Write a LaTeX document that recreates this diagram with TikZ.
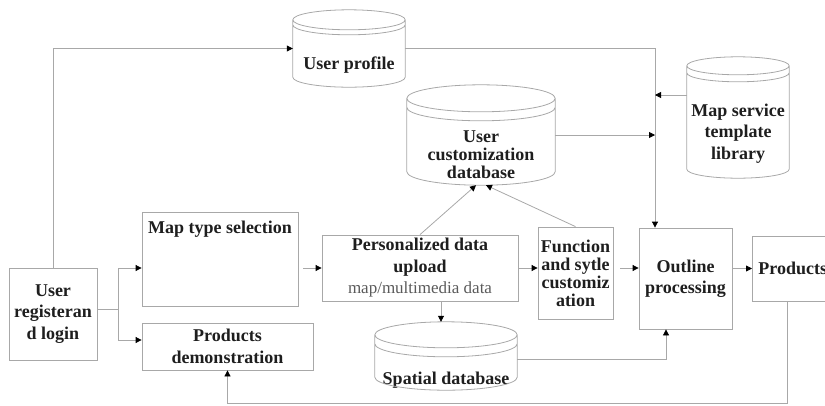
\documentclass[tikz,border=0pt]{standalone}
\usepackage{fontspec}
\setmainfont{Liberation Serif}
\usetikzlibrary{calc,arrows.meta,positioning}
\definecolor{linegray}{HTML}{A8A8A8}
\definecolor{textgray}{HTML}{1E1E1E}
\definecolor{subgray}{HTML}{5A5A5A}
\newcommand{\dbdraw}[3]{%
	\draw[line] let \p1=(#1.north west), \p2=(#1.south east), \n1={(\x2-\x1)/2} in
		(\x1,\y1-#2) -- (\x1,\y2+#2) arc[start angle=180,end angle=360,x radius=\n1,y radius=#2]
		-- (\x2,\y1-#2) arc[start angle=0,end angle=360,x radius=\n1,y radius=#2]
		(\x1,\y1-#2-#3) arc[start angle=180,end angle=360,x radius=\n1,y radius=#2];}

\begin{document}
\begin{tikzpicture}[
	x=1pt, y=-1pt,
	font=\fontsize{18}{21.5}\selectfont\bfseries,
	text=textgray,
	box/.style={draw=linegray, line width=0.8pt, rectangle, align=center, inner sep=2pt},
	db/.style={rectangle, inner sep=0pt},
	tight/.style={font=\fontsize{18}{18}\selectfont\bfseries},
	line/.style={draw=linegray, line width=0.8pt},
	arr/.style={line, -{Triangle[length=6pt,width=6pt,color=black,fill=black]}}
	]
	\useasboundingbox (0,0) rectangle (825,405);
	% boxes
	\node[box, minimum width=88pt, minimum height=92pt] (login) at (53,314) {User\\registeran\\d login};
	\node[box, minimum width=156pt, minimum height=94pt,
		label={[anchor=north,yshift=-6pt]north:Map type selection}] (maptype) at (220,259) {};
	\node[box, minimum width=171pt, minimum height=47pt] (prodemo) at (227.5,346.5) {Products\\demonstration};
	\node[box, minimum width=196pt, minimum height=66pt] (personal) at (420,268)
		{Personalized data\\upload\\{\fontsize{17}{21.5}\selectfont\mdseries\color{subgray}map/multimedia data}};
	\node[box, tight, minimum width=75pt, minimum height=92pt] (func) at (575.5,273) {Function\\and sytle\\customiz\\ation};
	\node[box, minimum width=93pt, minimum height=101pt] (outline) at (685.5,278.5) {Outline\\processing};
	\node[box, anchor=west, minimum height=65pt, inner xsep=6pt] (products) at (752,268.5) {Products};
	% databases
	\node[db, minimum width=112pt, minimum height=77pt,
		label={[yshift=-17pt]center:User profile}] (prof) at (349,48.5) {};
	\node[db, minimum width=148pt, minimum height=100pt,
		label={[tight,align=center,yshift=-20pt]center:{User\\customization\\database}}] (custom) at (481,135) {};
	\node[db, minimum width=102pt, minimum height=121pt,
		label={[align=center,yshift=-16pt]center:{Map service\\template\\library}}] (mapsvc) at (738,117.5) {};
	\node[db, minimum width=142pt, minimum height=68pt,
		label={[yshift=-24pt]center:Spatial database}] (spatial) at (446,356) {};
	\dbdraw{prof}{10pt}{5pt}
	\dbdraw{custom}{13.5pt}{9pt}
	\dbdraw{mapsvc}{9pt}{7pt}
	\dbdraw{spatial}{13pt}{9pt}
	% connectors
	\coordinate (bus) at ([xshift=-30.5pt]outline.north);
	\draw[arr] (login.north) |- (prof.west);
	\draw[line] ([yshift=5pt]login.east) -- ++(21,0) coordinate (fork);
	\draw[arr] (fork) |- (maptype.west |- personal.west);
	\draw[arr] (fork) |- ([yshift=6.5pt]prodemo.west);
	\draw[arr, shorten <=5pt] (maptype.east |- personal.west) -- (personal.west);
	\draw[arr] (personal.east) -- (personal.east -| func.west);
	\draw[arr, shorten <=7pt] (func.east |- personal.east) -- (outline.west |- personal.east);
	\draw[arr] (outline.east |- products.west) -- (products.west);
	\draw[arr] (personal.north) -- ([xshift=-5pt]custom.south);
	\draw[arr] (func.north) -- ([xshift=5pt]custom.south);
	\draw[arr] (personal.south -| 441,0) -- (spatial.north -| 441,0);
	\draw[arr] (spatial.east |- 0,359) -| (outline.south -| 666,0);
	\draw[arr] (prof.east) -| (bus);
	\draw[arr] (custom.east) -- (custom.east -| bus);
	\draw[arr] (mapsvc.west |- 0,95) -- (bus |- 0,95);
	\draw[arr] (products.south -| 787,0) -- ++(0,102) -| (prodemo.south);
\end{tikzpicture}
\end{document}
